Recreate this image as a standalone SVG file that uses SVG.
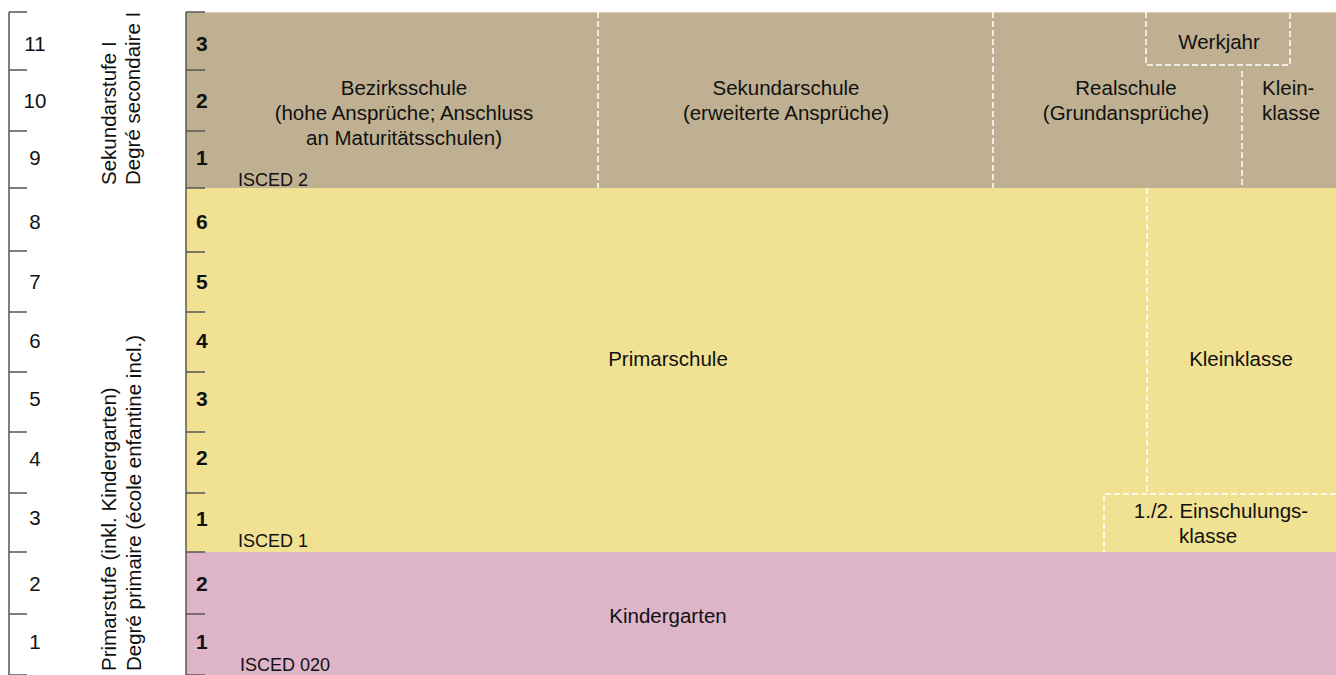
<svg xmlns="http://www.w3.org/2000/svg" width="1336" height="675" viewBox="0 0 1336 675">
<style>
text{font-family:"Liberation Sans",Arial,sans-serif;fill:#111;}
.t{font-size:20.5px;}
.c{text-anchor:middle;}
.n{font-size:20.5px;text-anchor:middle;}
.b{font-size:21px;font-weight:bold;}
.i{font-size:18px;}
.ax{stroke:#555;stroke-width:1.5;fill:none;}
.d{stroke:#fff;stroke-width:1.5;stroke-dasharray:6,3;fill:none;}
</style>
<rect width="1336" height="675" fill="#fff"/>

<g id="age-scale">
<path class="ax" d="M9,12V675M9,12H27M9,70H27M9,131H27M9,188H27M9,251H27M9,312H27M9,372H27M9,432H27M9,493H27M9,552H27M9,614H27M9,675H27"/>
<text class="n" x="35" y="51">11</text>
<text class="n" x="35" y="108">10</text>
<text class="n" x="35" y="165">9</text>
<text class="n" x="35" y="229">8</text>
<text class="n" x="35" y="289">7</text>
<text class="n" x="35" y="348">6</text>
<text class="n" x="35" y="406">5</text>
<text class="n" x="35" y="466">4</text>
<text class="n" x="35" y="525">3</text>
<text class="n" x="35" y="591">2</text>
<text class="n" x="35" y="649">1</text>
</g>

<g id="level-labels">
<text class="t" transform="translate(116,185) rotate(-90)">Sekundarstufe I</text>
<text class="t" transform="translate(140,185) rotate(-90)">Degré secondaire I</text>
<text class="t" transform="translate(116,671) rotate(-90)">Primarstufe (inkl. Kindergarten)</text>
<text class="t" transform="translate(141,671) rotate(-90)">Degré primaire (école enfantine incl.)</text>
</g>

<g id="secondary">
<rect x="186" y="12" width="1150" height="176" fill="#BFB091"/>
<line x1="186" y1="12.5" x2="1336" y2="12.5" stroke="#D6CDB8" stroke-width="1"/>
<text class="b" x="196" y="51">3</text>
<text class="b" x="196" y="108">2</text>
<text class="b" x="196" y="165">1</text>
<text class="i" x="238" y="186">ISCED 2</text>
</g>

<g id="bezirksschule">
<text class="t c" x="404" y="95">Bezirksschule</text>
<text class="t c" x="404" y="120">(hohe Ansprüche; Anschluss</text>
<text class="t c" x="404" y="145">an Maturitätsschulen)</text>
</g>

<g id="sekundarschule">
<text class="t c" x="786" y="95">Sekundarschule</text>
<text class="t c" x="786" y="120">(erweiterte Ansprüche)</text>
</g>

<g id="realschule">
<text class="t c" x="1126" y="95">Realschule</text>
<text class="t c" x="1126" y="120">(Grundansprüche)</text>
</g>

<g id="werkjahr">
<text class="t c" x="1219" y="49">Werkjahr</text>
</g>

<g id="kleinklasse-sek">
<text class="t" x="1262" y="95">Klein-</text>
<text class="t" x="1262" y="120">klasse</text>
</g>

<g id="primary">
<rect x="186" y="188" width="1150" height="364" fill="#F0E292"/>
<text class="b" x="196" y="229">6</text>
<text class="b" x="196" y="289">5</text>
<text class="b" x="196" y="348">4</text>
<text class="b" x="196" y="406">3</text>
<text class="b" x="196" y="465">2</text>
<text class="b" x="196" y="526">1</text>
<text class="i" x="238" y="547">ISCED 1</text>
</g>

<g id="primarschule">
<text class="t c" x="668" y="366">Primarschule</text>
</g>

<g id="kleinklasse-prim">
<text class="t c" x="1241" y="366">Kleinklasse</text>
</g>

<g id="einschulungsklasse">
<text class="t c" x="1221" y="518">1./2. Einschulungs-</text>
<text class="t c" x="1208" y="543">klasse</text>
</g>

<g id="kindergarten">
<rect x="186" y="552" width="1150" height="123" fill="#DDB4C8"/>
<text class="b" x="196" y="591">2</text>
<text class="b" x="196" y="649">1</text>
<text class="i" x="240" y="671">ISCED 020</text>
<text class="t c" x="668" y="623">Kindergarten</text>
</g>

<g id="connectors">
<path class="d" d="M598,12V188"/>
<path class="d" d="M993,12V188"/>
<path class="d" d="M1146,12V65H1290V12"/>
<path class="d" d="M1242,71V188"/>
<path class="d" d="M1147,188V494"/>
<path class="d" d="M1336,494H1104V552"/>
</g>

<g id="grade-axis">
<path class="ax" d="M186,12V675M186,12H205M186,70H205M186,131H205M186,188H205M186,252H205M186,312H205M186,372H205M186,432H205M186,493H205M186,552H205M186,614H205M186,675H205"/>
</g>
</svg>
